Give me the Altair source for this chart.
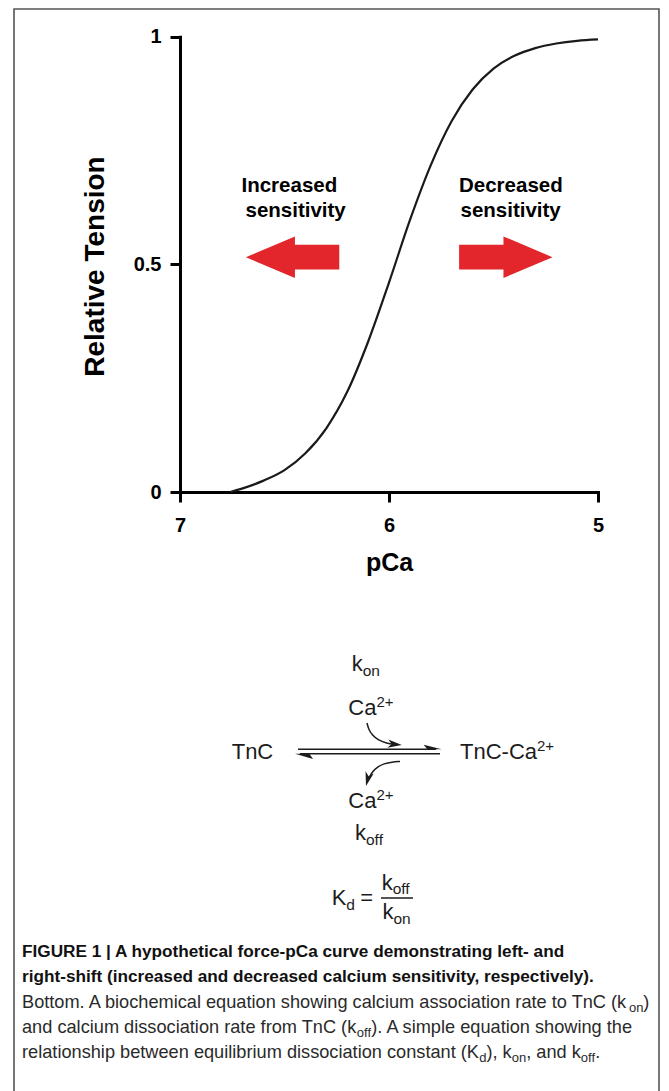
import altair as alt
import pandas as pd

# ---------------- data ----------------
pca = [6.76, 6.70, 6.60, 6.50, 6.40, 6.30, 6.20, 6.10, 6.00, 5.90,
       5.80, 5.70, 5.60, 5.50, 5.40, 5.30, 5.20, 5.10, 5.00]
tension = [0.000, 0.008, 0.025, 0.048, 0.085, 0.140, 0.220, 0.330, 0.460, 0.597,
           0.718, 0.815, 0.884, 0.930, 0.958, 0.975, 0.985, 0.991, 0.994]
x_ticks = [5, 6, 7]
y_ticks = [0, 0.5, 1]

ann_left = ["Increased", "sensitivity"]
ann_right = ["Decreased", "sensitivity"]

cap_bold = [
    "FIGURE 1 | A hypothetical force-pCa curve demonstrating left- and",
    "right-shift (increased and decreased calcium sensitivity, respectively).",
]
cap_reg = [
    [("Bottom. A biochemical equation showing calcium association rate to TnC (k", 0), ("on", 1), (")", 0)],
    [("and calcium dissociation rate from TnC (k", 0), ("off", 1), ("). A simple equation showing the", 0)],
    [("relationship between equilibrium dissociation constant (K", 0), ("d", 1), ("), k", 0), ("on", 1),
     (", and k", 0), ("off", 1), (".", 0)],
]

# ---------------- styling ----------------
FONT = "Liberation Sans"
RED = "#E3262B"
INK = "#1c1c1c"
W, H = 669, 1091

REG = {' ': 278, '(': 333, ')': 333, ',': 278, '-': 333, '.': 278, '=': 584, '+': 584, '2': 556,
       '|': 260, 'A': 667, 'B': 667, 'C': 722, 'K': 667, 'T': 611,
       'a': 556, 'b': 556, 'c': 500, 'd': 556, 'e': 556, 'f': 278, 'g': 556, 'h': 556, 'i': 222,
       'k': 500, 'l': 222, 'm': 833, 'n': 556, 'o': 556, 'p': 556, 'q': 556, 'r': 333, 's': 500,
       't': 278, 'u': 556, 'v': 500, 'w': 722, 'y': 500}


def tw(s, size):
    return sum(REG.get(c, 556) for c in s) / 1000.0 * size


rows = []


def seg(style, text, x, y, fs):
    rows.append(dict(style=style, text=text, x=x, y=y, fs=fs))


# annotations
seg("ann", ann_left[0], 241.5, 191.7, 20.5)
seg("ann", ann_left[1], 245.5, 216.5, 20.5)
seg("ann", ann_right[0], 459, 191.7, 20.5)
seg("ann", ann_right[1], 460.5, 216.5, 20.5)

# diagram text
DF, DS = 22, 15.5
seg("dia", "k", 351.7, 671, DF)
seg("dia", "on", 351.7 + tw("k", DF), 676, DS)
seg("dia", "Ca", 348.3, 715, DF)
seg("dia", "2+", 348.3 + tw("Ca", DF), 706.5, 15)
seg("dia", "TnC", 231.7, 759.3, DF)
seg("dia", "TnC-Ca", 460, 759.3, DF)
seg("dia", "2+", 460 + tw("TnC-Ca", DF), 751, 15)
seg("dia", "Ca", 348.3, 808.3, DF)
seg("dia", "2+", 348.3 + tw("Ca", DF), 800, 15)
seg("dia", "k", 355, 840, DF)
seg("dia", "off", 355 + tw("k", DF), 845, DS)
seg("dia", "K", 331.7, 905, DF)
seg("dia", "d", 331.7 + tw("K", DF), 910, DS)
seg("dia", "=", 366.7 - tw("=", DF) / 2, 905, DF)
seg("dia", "k", 381.7, 889.5, DF)
seg("dia", "off", 381.7 + tw("k", DF), 894, DS)
seg("dia", "k", 382.5, 919, DF)
seg("dia", "on", 382.5 + tw("k", DF), 923.5, DS)

# caption
CX = 22
LY = [957, 982, 1007.5, 1033, 1058]
BF, RF, SF = 17.2, 18.2, 13
seg("capb", cap_bold[0], CX, LY[0], BF)
seg("capb", cap_bold[1], CX, LY[1], BF)
for parts, y in zip(cap_reg, LY[2:]):
    x = CX
    for text, sub in parts:
        fs = SF if sub else RF
        seg("capr", text, x, y + (4 if sub else 0), fs)
        x += tw(text, fs)

tdf = pd.DataFrame(rows)

# glyphs: red block arrows, arrow heads
LEFT_ARROW = "M -1 0 L 0.05 -0.445 L 0.05 -0.265 L 1 -0.265 L 1 0.265 L 0.05 0.265 L 0.05 0.445 Z"
RIGHT_ARROW = "M 1 0 L -0.05 -0.445 L -0.05 -0.265 L -1 -0.265 L -1 0.265 L -0.05 0.265 L -0.05 0.445 Z"
HEAD = "M 1 0 L -1 -0.6 L -0.45 0 L -1 0.6 Z"
HARP_R = "M 1 0 L -1 -0.5 L -0.6 0 Z"
HARP_L = "M -1 0 L 1 0.6 L 0.6 0 Z"
glyphs = pd.DataFrame([
    dict(x=292.6, y=257.2, shape=LEFT_ARROW, size=8720, ang=0, col=RED),
    dict(x=505.8, y=257.2, shape=RIGHT_ARROW, size=8720, ang=0, col=RED),
    dict(x=394.8, y=744.3, shape=HEAD, size=196, ang=6, col=INK),
    dict(x=367.8, y=779.2, shape=HEAD, size=196, ang=105, col=INK),
    dict(x=432.7, y=749.3, shape=HARP_R, size=324, ang=0, col=INK),
    dict(x=304.0, y=753.7, shape=HARP_L, size=324, ang=0, col=INK),
])

rules = pd.DataFrame([
    dict(x1=298, x2=436, y=749.3),
    dict(x1=300, x2=440, y=753.7),
    dict(x1=381, x2=413, y=898),
])

arcs = pd.DataFrame([
    dict(arc="a", i=0, x=367.0, y=723.0), dict(arc="a", i=1, x=368.5, y=729.0),
    dict(arc="a", i=2, x=372.0, y=735.0), dict(arc="a", i=3, x=378.0, y=740.0),
    dict(arc="a", i=4, x=386.0, y=743.2), dict(arc="a", i=5, x=393.0, y=744.2),
    dict(arc="b", i=0, x=400.0, y=761.5), dict(arc="b", i=1, x=392.0, y=762.0),
    dict(arc="b", i=2, x=384.0, y=763.6), dict(arc="b", i=3, x=377.5, y=766.8),
    dict(arc="b", i=4, x=372.5, y=771.5), dict(arc="b", i=5, x=369.0, y=778.0),
])

curve_df = pd.DataFrame({"pCa": pca, "tension": tension})

PX = dict(scale=None, axis=None)

border = alt.Chart(pd.DataFrame({"a": [0]})).mark_rect(
    fillOpacity=0, stroke="#555555", strokeWidth=1.6
).encode(x=alt.value(14), x2=alt.value(659), y=alt.value(9), y2=alt.value(1110))

curve = alt.Chart(curve_df).mark_line(color="#1a1a1a", strokeWidth=2.2, interpolate="monotone").encode(
    x=alt.X("pCa:Q", scale=alt.Scale(domain=[5, 7], range=[180, 598], reverse=True, nice=False, zero=False),
            axis=alt.Axis(values=x_ticks, tickCount=3, format="~g", offset=-(H - 492), grid=False,
                          domainColor="black", domainWidth=3, domainCap="square",
                          tickColor="black", tickWidth=3, tickSize=10,
                          labelFont=FONT, labelFontSize=20, labelFontWeight="bold",
                          labelColor="black", labelPadding=13, labelFlush=False, labelOverlap=False,
                          title="pCa", titleFont=FONT, titleFontSize=25, titleFontWeight="bold",
                          titleColor="black", titleX=389, titleY=78, titleAlign="center",
                          titleBaseline="alphabetic")),
    y=alt.Y("tension:Q", scale=alt.Scale(domain=[0, 1], range=[492, 36.7]),
            axis=alt.Axis(values=y_ticks, tickCount=3, format="~g", offset=-180, grid=False,
                          domainColor="black", domainWidth=3, domainCap="square",
                          tickColor="black", tickWidth=3, tickSize=10,
                          labelFont=FONT, labelFontSize=20, labelFontWeight="bold",
                          labelColor="black", labelPadding=9, labelOverlap=False,
                          title="Relative Tension", titleFont=FONT, titleFontSize=28,
                          titleFontWeight="bold", titleColor="black", titleAngle=270,
                          titleX=-77, titleY=266, titleAlign="center",
                          titleBaseline="alphabetic")),
)

glyph_layer = alt.Chart(glyphs).mark_point(filled=True, opacity=1, strokeWidth=0).encode(
    x=alt.X("x:Q", **PX), y=alt.Y("y:Q", **PX),
    shape=alt.Shape("shape:N", scale=None, legend=None),
    size=alt.Size("size:Q", scale=None, legend=None),
    angle=alt.Angle("ang:Q", scale=None),
    color=alt.Color("col:N", scale=None, legend=None),
)

rule_layer = alt.Chart(rules).mark_rule(color=INK, strokeWidth=1.5).encode(
    x=alt.X("x1:Q", **PX), x2="x2:Q", y=alt.Y("y:Q", **PX)
)

arc_layer = alt.Chart(arcs).mark_line(color=INK, strokeWidth=1.5, interpolate="basis").encode(
    x=alt.X("x:Q", **PX), y=alt.Y("y:Q", **PX), detail="arc:N", order="i:Q"
)


def text_layer(style, font, weight, color):
    return alt.Chart(tdf[tdf["style"] == style]).mark_text(
        align="left", baseline="alphabetic", font=font, fontWeight=weight, color=color
    ).encode(
        x=alt.X("x:Q", **PX), y=alt.Y("y:Q", **PX), text="text:N",
        size=alt.Size("fs:Q", scale=None, legend=None),
    )


chart = alt.layer(
    border,
    curve,
    glyph_layer,
    rule_layer,
    arc_layer,
    text_layer("ann", FONT, "bold", "black"),
    text_layer("dia", FONT, "normal", INK),
    text_layer("capb", FONT, "bold", "#111111"),
    text_layer("capr", FONT, "normal", "#2a2a2a"),
).resolve_scale(x="independent", y="independent").properties(
    width=W, height=H, padding=0, autosize=alt.AutoSizeParams(type="none"),
    background="white",
).configure_view(stroke=None)

chart.save("out.html", embed_options={"renderer": "svg", "actions": False})
